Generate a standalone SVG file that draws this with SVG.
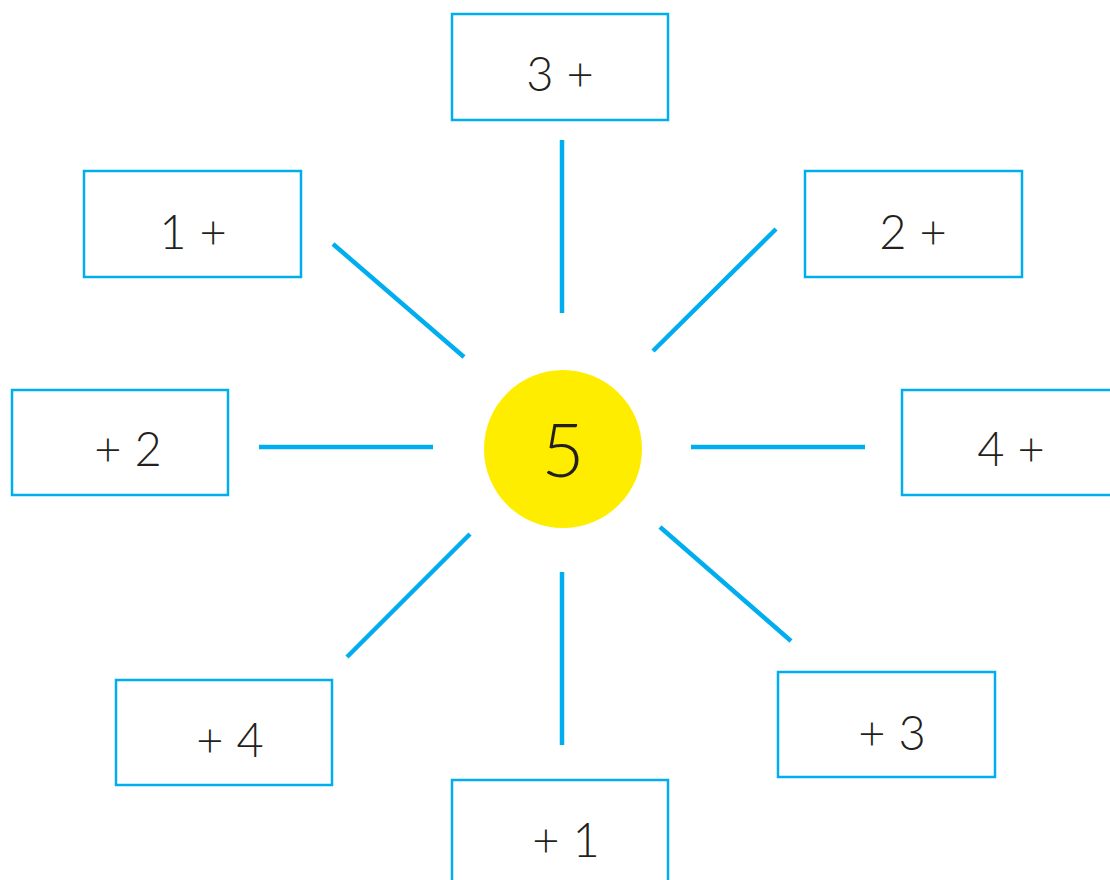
<svg xmlns="http://www.w3.org/2000/svg" width="1110" height="880" viewBox="0 0 1110 880">
<style>
.box{fill:#fff;stroke:#00aeef;stroke-width:2.5}
.lbl{font-family:Lato,"Liberation Sans",sans-serif;font-weight:300;font-size:47px;fill:#231f20;text-anchor:middle}
.ray{stroke:#00aeef;stroke-width:4.5;fill:none}
</style>
<rect width="1110" height="880" fill="#fff"/>
<g id="connectors">
<line class="ray" x1="562" y1="140" x2="562" y2="313"/>
<line class="ray" x1="333" y1="244" x2="464" y2="357"/>
<line class="ray" x1="776" y1="229" x2="653" y2="351"/>
<line class="ray" x1="259" y1="447" x2="433" y2="447"/>
<line class="ray" x1="691" y1="447" x2="865" y2="447"/>
<line class="ray" x1="470" y1="534" x2="347" y2="657"/>
<line class="ray" x1="660" y1="527" x2="791" y2="641"/>
<line class="ray" x1="562" y1="572" x2="562" y2="745"/>
</g>
<g id="center">
<circle cx="563" cy="449" r="79" fill="#ffed00"/>
<text class="lbl" x="563" y="477" style="font-size:74px">5</text>
</g>
<g id="n-top"><rect class="box" x="452" y="14" width="216" height="106"/><text class="lbl" x="560" y="91">3 +</text></g>
<g id="n-ul"><rect class="box" x="84" y="171" width="217" height="106"/><text class="lbl" x="193" y="249">1 +</text></g>
<g id="n-ur"><rect class="box" x="805" y="171" width="217" height="106"/><text class="lbl" x="913" y="249">2 +</text></g>
<g id="n-left"><rect class="box" x="12" y="390" width="216" height="105"/><text class="lbl" x="128" y="466">+ 2</text></g>
<g id="n-right"><rect class="box" x="902" y="390" width="217" height="105"/><text class="lbl" x="1011" y="466">4 +</text></g>
<g id="n-ll"><rect class="box" x="116" y="680" width="216" height="105"/><text class="lbl" x="230" y="757">+ 4</text></g>
<g id="n-lr"><rect class="box" x="778" y="672" width="217" height="105"/><text class="lbl" x="892" y="750">+ 3</text></g>
<g id="n-bottom"><rect class="box" x="452" y="780" width="216" height="110"/><text class="lbl" x="566" y="857">+ 1</text></g>
</svg>
